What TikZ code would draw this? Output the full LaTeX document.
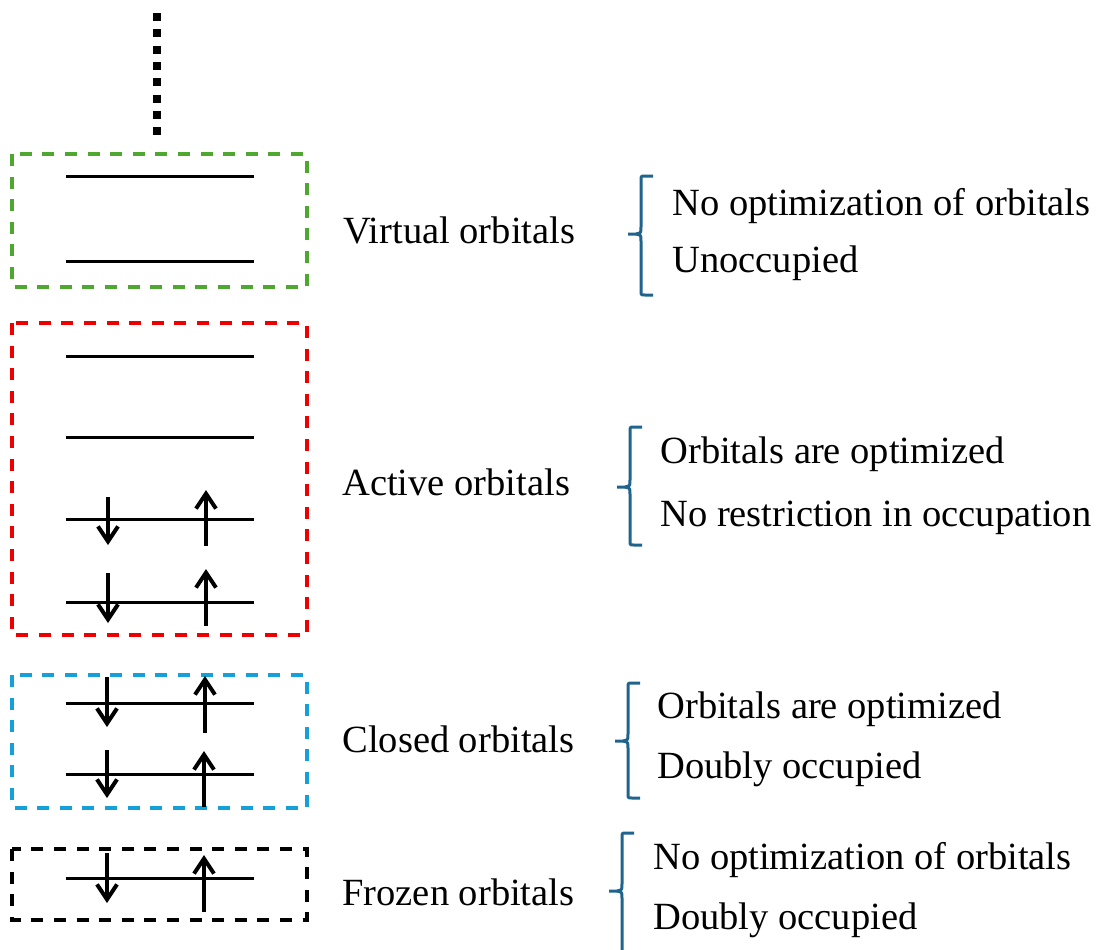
\documentclass[tikz,border=0pt]{standalone}
\usepackage{fontspec}
\setmainfont{Liberation Serif}
\usetikzlibrary{arrows.meta}
\definecolor{vgreen}{RGB}{78,167,46}
\definecolor{ared}{RGB}{238,0,0}
\definecolor{cblue}{RGB}{21,160,218}
\definecolor{brc}{RGB}{30,100,140}
\tikzset{
  box/.style={line width=1.6pt, dash pattern=on 6pt off 5.3pt},
  orb/.style={line width=1.5pt},
  spin/.style={line width=2pt, -{Straight Barb[length=7.5pt,width=10pt]}},
  lbl/.style={anchor=base west, inner sep=0pt, font=\fontsize{19.25}{23}\selectfont},
  brace/.style={line width=1.5pt, draw=brc, line join=round}
}
\newcommand\obrace[4]{%
  \draw[brace] (#1+12,#2) -- (#1+4,#2) .. controls (#1,#2) .. (#1,#2+4)
     -- (#1,#3-7) .. controls (#1,#3-1) .. (#1-5,#3) -- (#1-13,#3);
  \draw[brace] (#1-5,#3) .. controls (#1,#3+1) .. (#1,#3+7)
     -- (#1,#4-4) .. controls (#1,#4) .. (#1+4,#4) -- (#1+12,#4);}
\begin{document}
\begin{tikzpicture}[x=0.5pt,y=-0.5pt]
\useasboundingbox (0,0) rectangle (1099,949);
% dotted line
\draw[line width=4pt, dash pattern=on 4pt off 4.15pt] (157,13) coordinate (d1) -- (157,135) coordinate (d2);
% boxes
\draw[box, draw=vgreen] (12,154) rectangle (307,287);
\draw[box, draw=ared] (12,323) rectangle (307,635);
\draw[box, draw=cblue] (12,675) rectangle (307,808);
\draw[box, draw=black] (12,849) rectangle (307,920);
% orbital levels
\foreach \y in {176,261,356,437,519,602,703,774,878}
  \draw[orb] (66,\y) -- (254,\y);
% spins
\draw[spin] (108,497) -- (108,545);
\draw[spin] (206,546) -- (206,490);
\draw[spin] (108,573) -- (108,623);
\draw[spin] (206,626) -- (206,569);
\draw[spin] (107,677) -- (107,727);
\draw[spin] (205,733) -- (205,676);
\draw[spin] (107,750) -- (107,798);
\draw[spin] (204,807) -- (204,751);
\draw[spin] (107,853) -- (107,903);
\draw[spin] (204,912) -- (204,855);
% labels
\node[lbl] (lv) at (343,243) {Virtual orbitals};
\node[lbl] (la) at (342,495) {Active orbitals};
\node[lbl] (lc) at (342,752) {Closed orbitals};
\node[lbl] (lf) at (342,905) {Frozen orbitals};
% braces
\obrace{641}{176}{234}{295}
\obrace{630}{427}{487}{545}
\obrace{628}{683}{741}{798}
\obrace{622}{833}{891}{960}
% descriptions
\node[lbl] (v1) at (672,215) {No optimization of orbitals};
\node[lbl] (v2) at (672,272) {Unoccupied};
\node[lbl] (a1) at (660,463) {Orbitals are optimized};
\node[lbl] (a2) at (660,526) {No restriction in occupation};
\node[lbl] (c1) at (657,718) {Orbitals are optimized};
\node[lbl] (c2) at (657,778) {Doubly occupied};
\node[lbl] (f1) at (653,869) {No optimization of orbitals};
\node[lbl] (f2) at (653,929) {Doubly occupied};
\end{tikzpicture}
\end{document}
